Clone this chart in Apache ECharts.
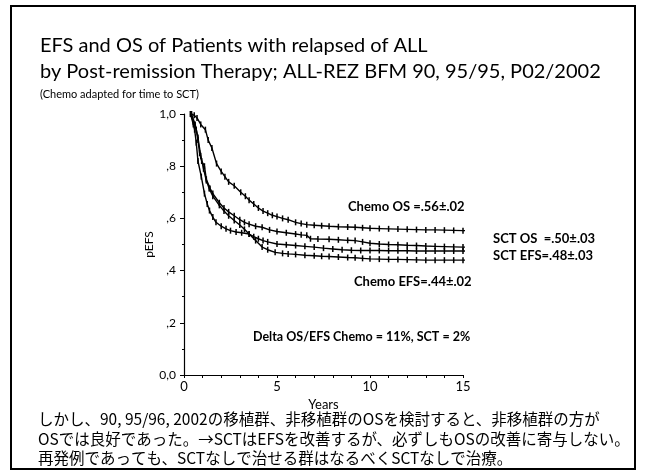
<!DOCTYPE html>
<html><head><meta charset="utf-8">
<script src="https://cdn.jsdelivr.net/npm/echarts/dist/echarts.min.js"></script>
<style>html,body{margin:0;padding:0;background:#fff}#c{width:645px;height:474px}</style>
</head><body><div id="c"></div>
<script>
// ---- data (years, survival probability) ----
const chemoOS = [[0.4,1.0],[0.55,0.995],[0.7,0.985],[0.9,0.96],[1.15,0.94],[1.3,0.9],[1.5,0.87],[1.75,0.81],[2.0,0.78],[2.2,0.76],[2.4,0.74],[2.7,0.725],[3.05,0.7],[3.3,0.685],[3.5,0.67],[3.75,0.655],[4.0,0.64],[4.25,0.628],[4.5,0.62],[4.75,0.612],[5.0,0.607],[5.3,0.6],[5.6,0.595],[6.0,0.585],[6.3,0.58],[6.6,0.576],[7.0,0.574],[7.4,0.572],[7.8,0.57],[8.3,0.568],[8.8,0.567],[9.2,0.566],[9.6,0.564],[10.0,0.562],[10.5,0.561],[11.0,0.56],[11.5,0.559],[12.0,0.558],[12.5,0.557],[13.0,0.556],[13.5,0.556],[14.0,0.555],[14.5,0.554],[15.0,0.553]];
const sctOS = [[0.35,1.0],[0.5,0.97],[0.66,0.94],[0.75,0.9],[0.84,0.85],[0.95,0.82],[1.1,0.8],[1.2,0.75],[1.4,0.715],[1.55,0.695],[1.9,0.66],[2.15,0.64],[2.4,0.625],[2.7,0.61],[3.0,0.595],[3.25,0.585],[3.5,0.578],[3.85,0.57],[4.2,0.566],[4.6,0.556],[5.0,0.55],[5.5,0.545],[6.0,0.54],[6.3,0.537],[6.6,0.535],[6.8,0.522],[7.2,0.521],[7.8,0.52],[8.3,0.518],[8.8,0.516],[9.2,0.515],[9.6,0.51],[10.0,0.505],[10.5,0.502],[11.0,0.5],[11.5,0.499],[12.0,0.497],[12.5,0.496],[13.0,0.494],[13.5,0.493],[14.0,0.492],[14.5,0.491],[15.0,0.49]];
const chemoEFS = [[0.4,1.0],[0.6,0.96],[0.75,0.91],[0.9,0.84],[1.05,0.79],[1.2,0.745],[1.35,0.715],[1.55,0.685],[1.9,0.65],[2.15,0.628],[2.4,0.61],[2.7,0.592],[3.0,0.575],[3.25,0.558],[3.5,0.54],[3.85,0.515],[4.2,0.49],[4.5,0.48],[4.9,0.47],[5.3,0.466],[5.6,0.464],[6.0,0.462],[6.5,0.459],[7.0,0.457],[7.4,0.455],[7.8,0.454],[8.3,0.452],[8.8,0.45],[9.2,0.449],[9.6,0.447],[10.0,0.445],[10.5,0.444],[11.0,0.443],[11.5,0.443],[12.0,0.442],[12.5,0.441],[13.0,0.44],[13.5,0.44],[14.0,0.44],[14.5,0.44],[15.0,0.44]];
const sctEFS = [[0.35,1.0],[0.5,0.96],[0.57,0.94],[0.66,0.89],[0.75,0.82],[0.93,0.76],[1.1,0.695],[1.25,0.655],[1.37,0.63],[1.55,0.605],[1.72,0.585],[2.0,0.57],[2.26,0.56],[2.5,0.553],[2.8,0.548],[3.1,0.545],[3.5,0.54],[3.75,0.53],[4.0,0.522],[4.25,0.515],[4.5,0.51],[5.0,0.502],[5.5,0.499],[6.0,0.496],[6.5,0.493],[7.0,0.49],[7.5,0.486],[8.0,0.483],[8.5,0.48],[9.0,0.478],[9.5,0.477],[10.0,0.477],[10.5,0.477],[11.0,0.476],[11.5,0.476],[12.0,0.476],[12.5,0.475],[13.0,0.475],[13.5,0.475],[14.0,0.475],[14.5,0.475],[15.0,0.475]];
// curve tails drawn past the last tick (no censor mark)
const tailX = 15.9;

const yTickLabels = ['0,0', ',2', ',4', ',6', ',8', '1,0'];
const xTickLabels = ['0', '5', '10', '15'];

const titleLines = ['EFS and OS of Patients with relapsed of ALL', 'by Post-remission Therapy; ALL-REZ BFM 90, 95/95, P02/2002'];
const subTitle = '(Chemo adapted for time to SCT)';
const annotations = ['Chemo OS =.56\u00b1.02', 'SCT OS  =.50\u00b1.03', 'SCT EFS=.48\u00b1.03', 'Chemo EFS=.44\u00b1.02', 'Delta OS/EFS Chemo = 11%, SCT = 2%'];
const noteLines = ['しかし、90, 95/96, 2002の移植群、非移植群のOSを検討すると、非移植群の方が',
  'OSでは良好であった。→SCTはEFSを改善するが、必ずしもOSの改善に寄与しない。',
  '再発例であっても、SCTなしで治せる群はなるべくSCTなしで治療。'];

const LAT = 'Lato, "Open Sans", sans-serif';
const JP = '"Noto Sans CJK JP", sans-serif';

function mkSeries(name, arr){
  const d = arr.map(p => p);
  d.push({value:[tailX, arr[arr.length-1][1]], symbol:'none'});
  return {
    name, type:'line', data:d, clip:false, smooth:false,
    symbol:'rect', symbolSize:[1.5,6], showSymbol:true, showAllSymbol:true,
    itemStyle:{color:'#000'}, lineStyle:{color:'#000', width:1.4},
    emphasis:{disabled:true}, silent:true, z:3
  };
}

const chart = echarts.init(document.getElementById('c'), null, {renderer:'canvas'});
chart.setOption({
  animation:false,
  backgroundColor:'#fff',
  grid:{left:184, right:182, top:114, bottom:99, containLabel:false},
  xAxis:{
    type:'value', min:0, max:15, interval:5,
    axisLine:{lineStyle:{color:'#000', width:1.2}},
    axisTick:{show:true, length:3, lineStyle:{color:'#000'}},
    minorTick:{show:true, splitNumber:5, length:3, lineStyle:{color:'#000'}},
    splitLine:{show:false},
    axisLabel:{color:'#000', fontFamily:LAT, fontSize:13, margin:5,
      formatter:v => xTickLabels[Math.round(v/5)]},
    name:'Years', nameLocation:'middle', nameGap:19,
    nameTextStyle:{color:'#000', fontFamily:LAT, fontSize:13}
  },
  yAxis:{
    type:'value', min:0, max:1, interval:0.2,
    axisLine:{show:true, lineStyle:{color:'#000', width:1.2}},
    axisTick:{show:true, length:4, lineStyle:{color:'#000'}},
    minorTick:{show:true, splitNumber:2, length:2, lineStyle:{color:'#000'}},
    splitLine:{show:false},
    axisLabel:{color:'#000', fontFamily:LAT, fontSize:12, margin:8,
      formatter:v => yTickLabels[Math.round(v/0.2)]},
    name:'pEFS', nameLocation:'middle', nameGap:22, nameRotate:90,
    nameTextStyle:{color:'#000', fontFamily:LAT, fontSize:12}
  },
  series:[mkSeries('Chemo OS', chemoOS), mkSeries('SCT OS', sctOS), mkSeries('Chemo EFS', chemoEFS), mkSeries('SCT EFS', sctEFS)],
  graphic:[
    {type:'rect', shape:{x:11, y:6, width:624, height:463}, style:{fill:'none', stroke:'#000', lineWidth:2}, silent:true},
    {type:'text', x:40, y:46, style:{text:titleLines[0], font:'20px '+LAT, fill:'#000', textVerticalAlign:'middle'}},
    {type:'text', x:40, y:72, style:{text:titleLines[1], font:'20px '+LAT, fill:'#000', textVerticalAlign:'middle'}},
    {type:'text', x:40, y:94, style:{text:subTitle, font:'11px '+LAT, fill:'#000', textVerticalAlign:'middle'}},
    {type:'text', x:348, y:207, style:{text:annotations[0], font:'bold 13px '+LAT, fill:'#000', textVerticalAlign:'middle'}},
    {type:'text', x:493, y:239, style:{text:annotations[1], font:'bold 13px '+LAT, fill:'#000', textVerticalAlign:'middle'}},
    {type:'text', x:493, y:256, style:{text:annotations[2], font:'bold 13px '+LAT, fill:'#000', textVerticalAlign:'middle'}},
    {type:'text', x:354, y:282, style:{text:annotations[3], font:'bold 13px '+LAT, fill:'#000', textVerticalAlign:'middle'}},
    {type:'text', x:253, y:337, style:{text:annotations[4], font:'bold 12.5px '+LAT, fill:'#000', textVerticalAlign:'middle'}},
    {type:'text', x:38, y:419, style:{text:noteLines[0], font:'15.5px '+JP, fill:'#000', textVerticalAlign:'middle'}},
    {type:'text', x:38, y:439, style:{text:noteLines[1], font:'15.5px '+JP, fill:'#000', textVerticalAlign:'middle'}},
    {type:'text', x:38, y:458, style:{text:noteLines[2], font:'15.5px '+JP, fill:'#000', textVerticalAlign:'middle'}}
  ]
});
</script>
</body></html>
